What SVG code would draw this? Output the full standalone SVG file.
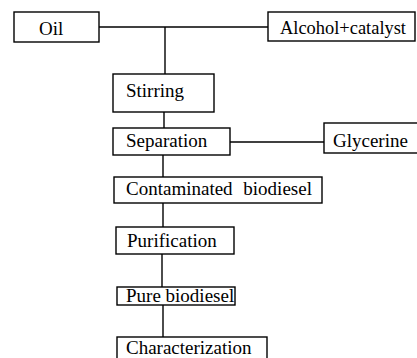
<svg xmlns="http://www.w3.org/2000/svg" width="417" height="358" viewBox="0 0 417 358">
<style>
.box{fill:#fff;stroke:#000;stroke-width:1.4}
.ln{stroke:#000;stroke-width:1.4;fill:none}
</style>
<rect width="417" height="358" fill="#fff"/>
<g id="connectors">
<line class="ln" x1="99" y1="27" x2="268" y2="27"/>
<line class="ln" x1="165" y1="27" x2="165" y2="74"/>
<line class="ln" x1="164" y1="112" x2="164" y2="128"/>
<line class="ln" x1="230" y1="142" x2="324" y2="142"/>
<line class="ln" x1="163" y1="155" x2="163" y2="177"/>
<line class="ln" x1="163" y1="203" x2="163" y2="227"/>
<line class="ln" x1="162" y1="254" x2="162" y2="287"/>
<line class="ln" x1="163" y1="305" x2="163" y2="337"/>
</g>
<g font-family="Liberation Serif, serif" font-size="19" fill="#000">
<g id="oil"><rect class="box" x="14" y="12" width="85" height="30"/><text x="39" y="35">Oil</text></g>
<g id="alcohol"><rect class="box" x="268" y="12" width="147" height="29"/><text x="280" y="34" textLength="126" lengthAdjust="spacingAndGlyphs">Alcohol+catalyst</text></g>
<g id="stirring"><rect class="box" x="113" y="74" width="101" height="38"/><text x="126" y="97">Stirring</text></g>
<g id="separation"><rect class="box" x="113" y="128" width="117" height="27"/><text x="126" y="147">Separation</text></g>
<g id="glycerine"><rect class="box" x="324" y="123" width="95" height="30"/><text x="333" y="147">Glycerine</text></g>
<g id="contaminated"><rect class="box" x="114" y="177" width="208" height="26"/><text x="126" y="195" word-spacing="6">Contaminated biodiesel</text></g>
<g id="purification"><rect class="box" x="116" y="227" width="118" height="27"/><text x="127" y="247">Purification</text></g>
<g id="pure"><rect class="box" x="117" y="287" width="118" height="18"/><text x="126" y="302">Pure biodiesel</text></g>
<g id="characterization"><rect class="box" x="117" y="337" width="150" height="30"/><text x="126" y="354">Characterization</text></g>
</g>
</svg>
